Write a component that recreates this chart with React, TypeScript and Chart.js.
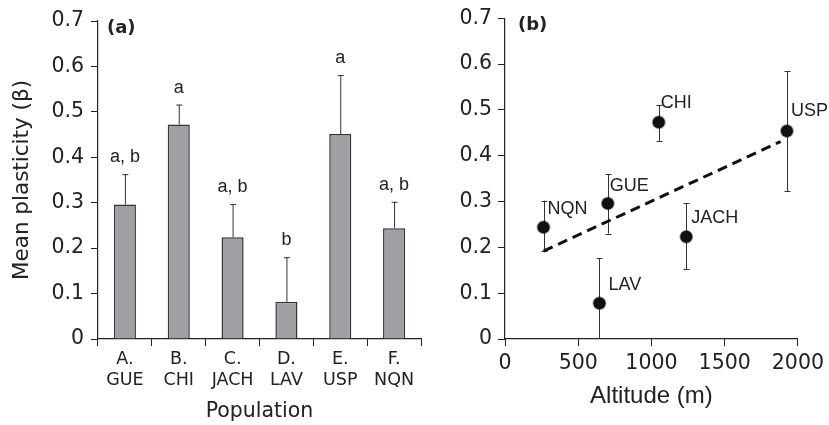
import React, { useEffect, useRef } from "react";
import { Chart, registerables } from "chart.js";

Chart.register(...registerables);

// ---- Panel (a) data ----
const populations = [
  ["A.", "GUE"],
  ["B.", "CHI"],
  ["C.", "JACH"],
  ["D.", "LAV"],
  ["E.", "USP"],
  ["F.", "NQN"],
];
const meanPlasticity = [0.296, 0.472, 0.224, 0.082, 0.451, 0.244];
const plasticitySE = [0.067, 0.044, 0.073, 0.098, 0.13, 0.058];
const groupLetters = ["a, b", "a", "a, b", "b", "a", "a, b"];

// ---- Panel (b) data ----
const siteNames = ["NQN", "GUE", "LAV", "CHI", "JACH", "USP"];
const altitudes = [263, 702, 645, 1050, 1238, 1925];
const sitePlasticity = [0.244, 0.296, 0.078, 0.473, 0.223, 0.454];
const siteErrLow = [0.192, 0.23, 0, 0.432, 0.153, 0.323];
const siteErrHigh = [0.302, 0.36, 0.177, 0.511, 0.297, 0.584];
const trendAltitude = [263, 1882];
const trendPlasticity = [0.192, 0.431];

// ---- styles ----
const TXT = "#222";
const TICK_FONT = { family: "'DejaVu Sans', Verdana, sans-serif", size: 20.5 };
const labelOffsets = [
  [4, -18],
  [2, -17],
  [9, -18],
  [2, -19],
  [5, -19],
  [4, -20],
];

function BarPanel() {
  const ref = useRef<HTMLCanvasElement>(null);
  useEffect(() => {
    const errPlugin = {
      id: "barErr",
      afterDatasetsDraw(chart: any) {
        const ctx = chart.ctx;
        const y = chart.scales.y;
        const meta = chart.getDatasetMeta(0);
        ctx.save();
        meta.data.forEach((el: any, i: number) => {
          const top = y.getPixelForValue(meanPlasticity[i] + plasticitySE[i]);
          ctx.strokeStyle = "#333";
          ctx.lineWidth = 1;
          ctx.beginPath();
          ctx.moveTo(el.x + 0.5, el.y);
          ctx.lineTo(el.x + 0.5, top);
          ctx.moveTo(el.x - 2.5, top + 0.5);
          ctx.lineTo(el.x + 3.5, top + 0.5);
          ctx.stroke();
          ctx.fillStyle = TXT;
          ctx.font = "18px 'Liberation Sans', Arial, sans-serif";
          ctx.textAlign = "center";
          ctx.textBaseline = "middle";
          ctx.fillText(groupLetters[i], el.x, top - 17);
        });
        ctx.font = "bold 18px 'DejaVu Sans', sans-serif";
        ctx.textAlign = "left";
        ctx.textBaseline = "middle";
        ctx.fillStyle = TXT;
        ctx.fillText("(a)", chart.chartArea.left + 9, chart.chartArea.top + 7);
        ctx.restore();
      },
    };
    const chart = new Chart(ref.current!, {
      type: "bar",
      data: {
        labels: populations,
        datasets: [
          {
            data: meanPlasticity,
            backgroundColor: "#9fa0a4",
            borderColor: "#333",
            borderWidth: 1.5,
            categoryPercentage: 1,
            barPercentage: 0.41,
          },
        ],
      },
      options: {
        responsive: false,
        animation: false,
        layout: { padding: { top: 21, right: 4, left: 0, bottom: 0 } },
        plugins: { legend: { display: false }, tooltip: { enabled: false } },
        scales: {
          x: {
            offset: true,
            grid: { offset: true, drawOnChartArea: false, drawTicks: true, tickLength: 7, color: "#222" },
            border: { display: true, color: "#222", width: 1.2 },
            ticks: { color: TXT, font: { family: "'DejaVu Sans', Verdana, sans-serif", size: 17.5 }, padding: 3, maxRotation: 0, autoSkip: false },
            title: {
              display: true,
              text: "Population",
              color: TXT,
              font: { family: "'DejaVu Sans', Verdana, sans-serif", size: 20.5 },
              padding: { top: 0, bottom: 1 },
            },
            afterFit(s: any) {
              s.height = 86;
            },
          },
          y: {
            min: 0,
            max: 0.7,
            ticks: { stepSize: 0.1, color: TXT, font: TICK_FONT, padding: 7 },
            grid: { drawOnChartArea: false, drawTicks: true, tickLength: 7, color: "#222" },
            border: { display: true, color: "#222", width: 1.2 },
            title: {
              display: true,
              text: "Mean plasticity (β)",
              color: TXT,
              font: { family: "'DejaVu Sans', Verdana, sans-serif", size: 21.5 },
              padding: { top: 10, bottom: 0 },
            },
            afterFit(s: any) {
              s.width = 98;
            },
          },
        },
      },
      plugins: [errPlugin],
    } as any);
    return () => chart.destroy();
  }, []);
  return <canvas ref={ref} width={425} height={425} style={{ display: "block" }} />;
}

function ScatterPanel() {
  const ref = useRef<HTMLCanvasElement>(null);
  useEffect(() => {
    const errPlugin = {
      id: "ptErr",
      beforeDatasetsDraw(chart: any) {
        const ctx = chart.ctx;
        const y = chart.scales.y;
        const meta = chart.getDatasetMeta(1);
        ctx.save();
        ctx.strokeStyle = "#333";
        ctx.lineWidth = 1;
        meta.data.forEach((el: any, i: number) => {
          const hi = y.getPixelForValue(siteErrHigh[i]);
          const lo = y.getPixelForValue(siteErrLow[i]);
          const x = Math.round(el.x) + 0.5;
          ctx.beginPath();
          ctx.moveTo(x, hi);
          ctx.lineTo(x, lo);
          ctx.moveTo(x - 3, Math.round(hi) + 0.5);
          ctx.lineTo(x + 3, Math.round(hi) + 0.5);
          if (siteErrLow[i] > 0) {
            ctx.moveTo(x - 3, Math.round(lo) + 0.5);
            ctx.lineTo(x + 3, Math.round(lo) + 0.5);
          }
          ctx.stroke();
        });
        ctx.restore();
      },
      afterDatasetsDraw(chart: any) {
        const ctx = chart.ctx;
        const meta = chart.getDatasetMeta(1);
        ctx.save();
        ctx.fillStyle = TXT;
        ctx.font = "18px 'Liberation Sans', Arial, sans-serif";
        ctx.textAlign = "left";
        ctx.textBaseline = "middle";
        meta.data.forEach((el: any, i: number) => {
          const [dx, dy] = labelOffsets[i];
          ctx.fillText(siteNames[i], el.x + dx, el.y + dy);
        });
        ctx.font = "bold 18px 'DejaVu Sans', sans-serif";
        ctx.fillText("(b)", chart.chartArea.left + 13, chart.chartArea.top + 7);
        ctx.restore();
      },
    };
    const chart = new Chart(ref.current!, {
      type: "scatter",
      data: {
        datasets: [
          {
            type: "line",
            data: trendAltitude.map((a, i) => ({ x: a, y: trendPlasticity[i] })),
            borderColor: "#111",
            borderWidth: 3,
            borderDash: [10, 6],
            pointRadius: 0,
            fill: false,
          },
          {
            data: altitudes.map((a, i) => ({ x: a, y: sitePlasticity[i] })),
            backgroundColor: "#111",
            borderColor: "rgba(0,0,0,0.35)",
            borderWidth: 2,
            pointRadius: 6,
          },
        ],
      },
      options: {
        responsive: false,
        animation: false,
        layout: { padding: { top: 17.5, right: 30, left: 0, bottom: 0 } },
        plugins: { legend: { display: false }, tooltip: { enabled: false } },
        scales: {
          x: {
            type: "linear",
            min: 0,
            max: 2000,
            ticks: { stepSize: 500, color: TXT, font: TICK_FONT, padding: 5, callback: (v: any) => String(v) },
            grid: { drawOnChartArea: false, drawTicks: true, tickLength: 7, color: "#222" },
            border: { display: true, color: "#222", width: 1.2 },
            title: {
              display: true,
              text: "Altitude (m)",
              color: TXT,
              font: { family: "'Liberation Sans', Arial, sans-serif", size: 24 },
              padding: { top: 0, bottom: 14 },
            },
            afterFit(s: any) {
              s.height = 86;
            },
          },
          y: {
            min: 0,
            max: 0.7,
            ticks: { stepSize: 0.1, color: TXT, font: TICK_FONT, padding: 6 },
            grid: { drawOnChartArea: false, drawTicks: true, tickLength: 7, color: "#222" },
            border: { display: true, color: "#222", width: 1.2 },
            afterFit(s: any) {
              s.width = 80;
            },
          },
        },
      },
      plugins: [errPlugin],
    } as any);
    return () => chart.destroy();
  }, []);
  return <canvas ref={ref} width={404} height={425} style={{ display: "block" }} />;
}

export default function App() {
  return (
    <div
      style={{
        position: "fixed",
        left: 0,
        top: 0,
        width: 829,
        height: 425,
        background: "#fff",
        display: "flex",
      }}
    >
      <BarPanel />
      <ScatterPanel />
    </div>
  );
}
